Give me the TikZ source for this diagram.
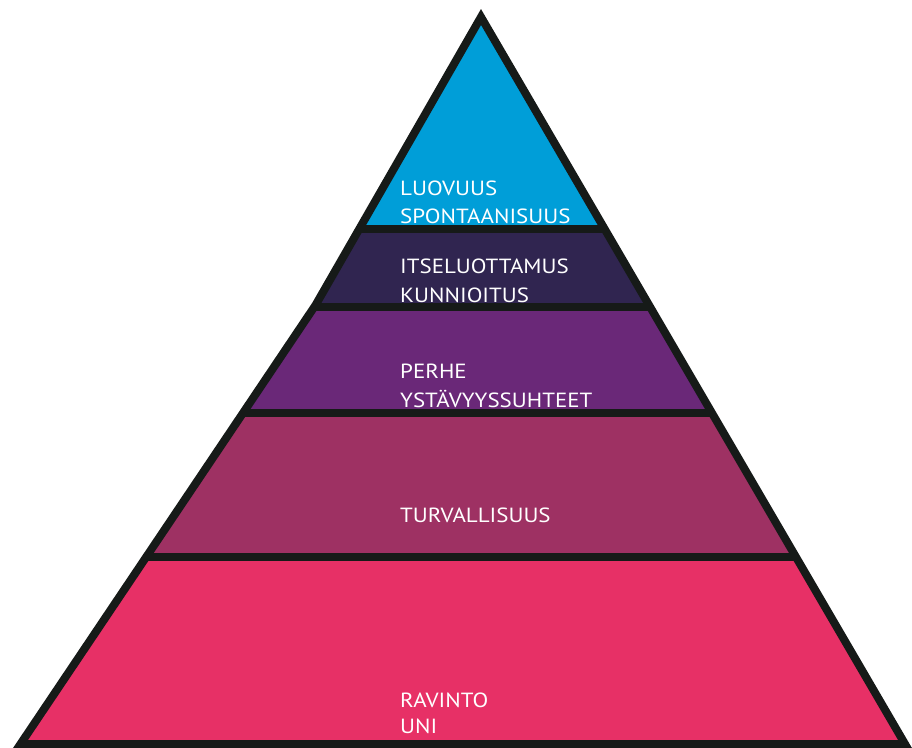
\documentclass[tikz,border=0pt]{standalone}
\usepackage{fontspec}
\setmainfont{PT Sans}[FakeStretch=1.12]
\definecolor{cblue}{HTML}{009ED8}
\definecolor{cdark}{HTML}{302550}
\definecolor{cpurple}{HTML}{6A2878}
\definecolor{cmag}{HTML}{9E3163}
\definecolor{cpink}{HTML}{E73066}
\definecolor{cline}{HTML}{161A18}
\tikzset{
  lbl/.style={anchor=base west, inner sep=0pt, text=white, font=\fontsize{20.5}{24}\selectfont},
  bar/.style={draw=cline, line width=7.5pt},
  outline/.style={draw=cline, line width=8pt, line join=miter}
}
\begin{document}
\begin{tikzpicture}[x=1pt,y=-1pt]
\useasboundingbox (0,0) rectangle (912,747);
\coordinate (A) at (481,17);
\coordinate (K) at (315.6,305);
\coordinate (L) at (20.5,744);
\coordinate (R) at (905,744);
\begin{scope}
  \clip (A) -- (K) -- (L) -- (R) -- cycle;
  \fill[cblue] (0,0) rectangle (912,229);
  \fill[cdark] (0,229) rectangle (912,307);
  \fill[cpurple] (0,307) rectangle (912,413);
  \fill[cmag] (0,413) rectangle (912,557);
  \fill[cpink] (0,557) rectangle (912,747);
\end{scope}
\node[lbl] (t1a) at (400,195) {LUOVUUS};
\node[lbl] (t1b) at (400,223) {SPONTAANISUUS};
\node[lbl] (t2a) at (400,273) {ITSELUOTTAMUS};
\node[lbl] (t2b) at (400,302) {KUNNIOITUS};
\node[lbl] (t3a) at (400,378) {PERHE};
\node[lbl] (t3b) at (400,407) {YSTÄVYYSSUHTEET};
\node[lbl] (t4) at (400,522) {TURVALLISUUS};
\node[lbl] (t5a) at (400,707) {RAVINTO};
\node[lbl] (t5b) at (400,733) {UNI};
\begin{scope}
  \clip (A) -- (K) -- (L) -- (R) -- cycle;
  \draw[bar] (0,229) -- (912,229);
  \draw[bar] (0,307) -- (912,307);
  \draw[bar] (0,413) -- (912,413);
  \draw[bar] (0,557) -- (912,557);
\end{scope}
\draw[outline] (A) -- (K) -- (L) -- (R) -- cycle;
\end{tikzpicture}
\end{document}
